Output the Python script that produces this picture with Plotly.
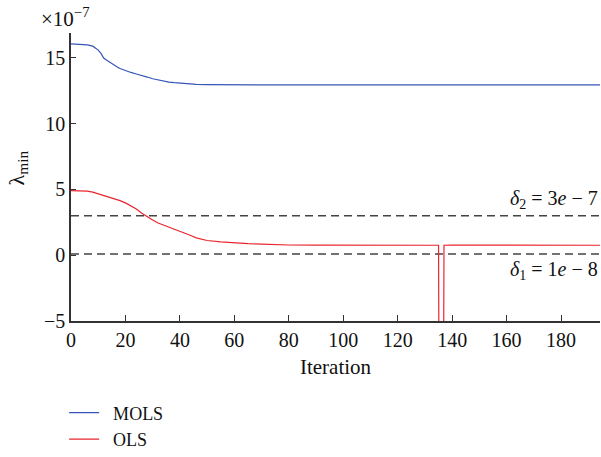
import plotly.graph_objects as go

# Smallest eigenvalue per iteration (values in units of 1e-7)
mols_iter = [0, 2, 4, 6, 8, 9, 10, 11, 12, 13, 14, 15, 16, 17, 18, 20, 22, 24, 26, 28,
             30, 32, 34, 36, 38, 40, 43, 46, 50, 55, 60, 70, 80, 100, 120, 140, 160, 180, 195]
mols_val = [16.08, 16.07, 16.05, 16.0, 15.9, 15.78, 15.6, 15.35, 15.0, 14.85, 14.7, 14.55,
            14.42, 14.32, 14.2, 14.02, 13.9, 13.78, 13.68, 13.55, 13.42, 13.33, 13.25, 13.17,
            13.12, 13.08, 13.04, 13.0, 12.98, 12.96, 12.95, 12.95, 12.95, 12.95, 12.95, 12.95,
            12.95, 12.95, 12.95]

ols_iter = [0, 3, 6, 8, 10, 12, 14, 16, 18, 20, 22, 24, 26, 28, 30, 32, 34, 36, 38, 40,
            42, 44, 46, 48, 50, 55, 60, 65, 70, 75, 80, 90, 100, 110, 120, 130, 135, 136, 137,
            140, 150, 160, 170, 180, 195]
ols_val = [4.92, 4.9, 4.87, 4.8, 4.68, 4.55, 4.42, 4.3, 4.15, 3.98, 3.78, 3.52, 3.2, 2.92,
           2.68, 2.45, 2.3, 2.15, 2.0, 1.85, 1.68, 1.5, 1.32, 1.2, 1.12, 1.02, 0.94, 0.88,
           0.84, 0.8, 0.78, 0.77, 0.76, 0.77, 0.76, 0.77, 0.76, -60.0, 0.76, 0.77, 0.76, 0.77,
           0.76, 0.76, 0.76]

# Thresholds (units of 1e-7)
delta1 = 0.1
delta2 = 3.0
x_span = [0, 195]

y_ticks = [-5, 0, 5, 10, 15]
x_ticks = [0, 20, 40, 60, 80, 100, 120, 140, 160, 180]

FONT = "Liberation Serif"
AXIS_COLOR = "#333333"

fig = go.Figure()
fig.add_trace(go.Scatter(x=x_span, y=[delta2, delta2], mode="lines", showlegend=False,
                         line=dict(color="#444444", width=1.5, dash="8px,5px")))
fig.add_trace(go.Scatter(x=x_span, y=[delta1, delta1], mode="lines", showlegend=False,
                         line=dict(color="#444444", width=1.5, dash="8px,5px")))
fig.add_trace(go.Scatter(x=mols_iter, y=mols_val, mode="lines", name="\u2002MOLS",
                         line=dict(color="#3656b8", width=1.2)))
fig.add_trace(go.Scatter(x=ols_iter, y=ols_val, mode="lines", name="\u2002OLS",
                         line=dict(color="#e8262e", width=1.2)))

fig.update_layout(
    width=601, height=457,
    margin=dict(l=71, r=1, t=33, b=136, autoexpand=False),
    paper_bgcolor="white", plot_bgcolor="white",
    font=dict(family=FONT, size=20, color="#111111"),
    showlegend=True,
    legend=dict(x=-0.013, y=-0.255, xanchor="left", yanchor="top",
                font=dict(family=FONT, size=18), bgcolor="rgba(0,0,0,0)",
                tracegroupgap=0, itemwidth=30),
    xaxis=dict(range=[0, 194.3], tickvals=x_ticks, ticks="inside", ticklen=6,
               tickcolor=AXIS_COLOR, showline=True, linecolor=AXIS_COLOR, linewidth=1.5,
               showgrid=False, zeroline=False, tickfont=dict(size=20),
               title=dict(text="Iteration", font=dict(size=21), standoff=10)),
    yaxis=dict(range=[-5, 16.9], tickvals=y_ticks,
               ticktext=["\u22125", "0", "5", "10", "15"], ticks="inside", ticklen=5,
               tickcolor=AXIS_COLOR, showline=True, linecolor=AXIS_COLOR, linewidth=1.5,
               showgrid=False, zeroline=False, tickfont=dict(size=20)),
)

fig.add_annotation(xref="paper", yref="paper", x=-0.012, y=1.0, xanchor="center",
                   yanchor="bottom", showarrow=False,
                   text="\u00d710<sup>\u22127</sup>", font=dict(size=21))
fig.add_annotation(xref="paper", yref="paper", x=-0.1, y=0.53, xanchor="center",
                   yanchor="middle", showarrow=False, textangle=-90,
                   text="\u03bb<sub>min</sub>", font=dict(size=22))
fig.add_annotation(xref="paper", yref="y", x=1.0, y=delta2, xanchor="right",
                   yanchor="bottom", showarrow=False, yshift=2,
                   text="<i>\u03b4</i><sub>2</sub> = 3<i>e</i> \u2212 7", font=dict(size=20))
fig.add_annotation(xref="paper", yref="y", x=1.0, y=delta1, xanchor="right",
                   yanchor="top", showarrow=False, yshift=-2,
                   text="<i>\u03b4</i><sub>1</sub> = 1<i>e</i> \u2212 8", font=dict(size=20))

fig.write_html("out.html")
